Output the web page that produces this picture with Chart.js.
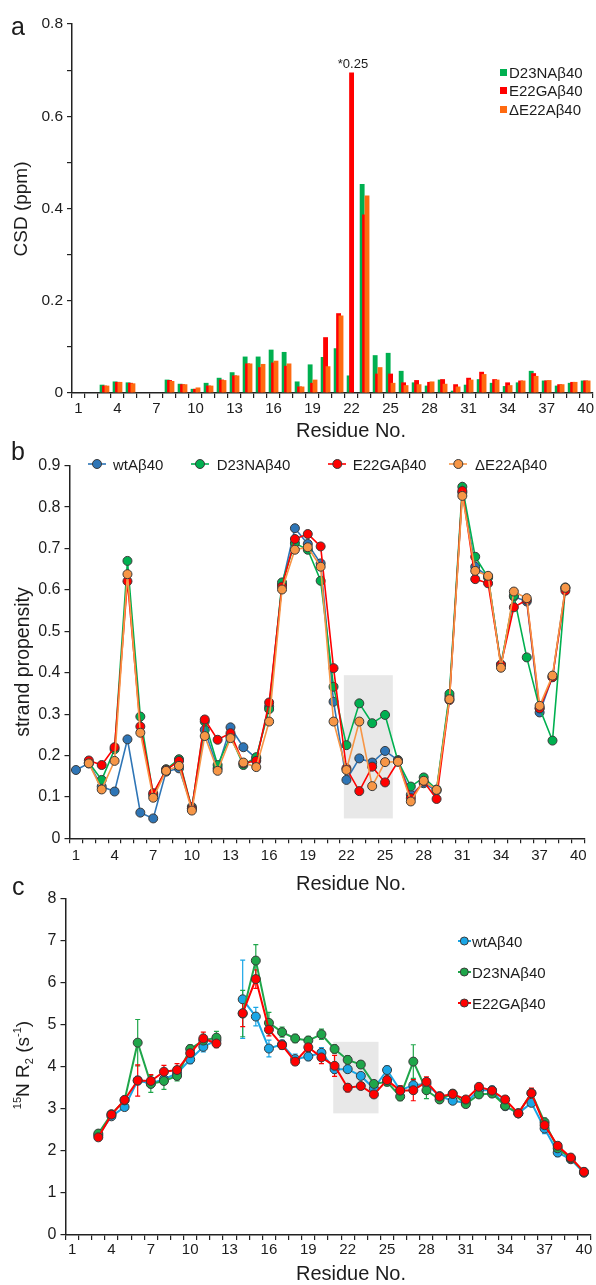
<!DOCTYPE html>
<html><head><meta charset="utf-8">
<script src="https://cdn.jsdelivr.net/npm/chart.js@4.4.1/dist/chart.umd.min.js"></script>
<style>
html,body{margin:0;padding:0;background:#fff;}
#page{position:relative;width:596px;height:1285px;overflow:hidden;font-family:"Liberation Sans",Arial,sans-serif;color:#1c1c1c;}
canvas{position:absolute;left:0;}
.t{position:absolute;white-space:nowrap;line-height:1;}
.rot{position:absolute;white-space:nowrap;line-height:1;transform:translate(-50%,-50%) rotate(-90deg);}
.rot sup,.rot sub{font-size:11px;line-height:0;}
</style></head><body>
<div id="page">
<canvas id="cA" width="596" height="440" style="top:0px"></canvas>
<canvas id="cB" width="596" height="440" style="top:440px"></canvas>
<canvas id="cC" width="596" height="405" style="top:880px"></canvas>

<div class="t" style="left:11px;top:14px;font-size:25px;">a</div>
<div class="t" style="left:11px;top:439px;font-size:25px;">b</div>
<div class="t" style="left:12px;top:874px;font-size:25px;">c</div>

<div class="rot" style="left:20px;top:209px;font-size:19px;">CSD (ppm)</div>
<div class="rot" style="left:23px;top:662px;font-size:19.5px;">strand propensity</div>
<div class="rot" style="left:22px;top:1065px;font-size:19px;"><sup>15</sup>N R<sub>2</sub> (s<sup>-1</sup>)</div>

<div class="t" style="left:351px;top:420px;font-size:20px;transform:translateX(-50%);">Residue No.</div>
<div class="t" style="left:351px;top:873px;font-size:20px;transform:translateX(-50%);">Residue No.</div>
<div class="t" style="left:351px;top:1263px;font-size:20px;transform:translateX(-50%);">Residue No.</div>

<div class="t" style="left:353px;top:57px;font-size:13px;transform:translateX(-50%);">*0.25</div>
<div id="legends"></div>
</div>
<script>
// ---------------- data ----------------
const residues = [1,2,3,4,5,6,7,8,9,10,11,12,13,14,15,16,17,18,19,20,21,22,23,24,25,26,27,28,29,30,31,32,33,34,35,36,37,38,39,40];
const tickResidues = [1,4,7,10,13,16,19,22,25,28,31,34,37,40];

// panel a: chemical shift difference (ppm)
const csdD23N = [null,null,0.018,0.025,0.023,null,null,0.029,0.020,0.009,0.022,0.033,0.045,0.079,0.079,0.094,0.089,0.025,0.062,0.078,0.097,0.038,0.453,0.082,0.087,0.048,0.023,0.016,0.029,0.005,0.018,0.030,0.022,0.015,0.023,0.048,0.027,0.016,0.022,0.027];
const csdE22G = [null,null,0.016,0.024,0.022,null,null,0.028,0.019,0.009,0.016,0.029,0.038,0.064,0.056,0.066,0.059,0.014,0.022,0.121,0.173,0.695,0.387,0.042,0.042,0.023,0.028,0.024,0.030,0.019,0.033,0.046,0.030,0.023,0.027,0.043,0.027,0.019,0.024,0.027];
const csdDE22 = [null,null,0.016,0.024,0.021,null,null,0.026,0.019,0.012,0.016,0.028,0.038,0.064,0.063,0.070,0.064,0.014,0.029,0.058,0.168,null,0.428,0.056,0.022,0.017,0.019,0.025,0.020,0.014,0.029,0.041,0.029,0.017,0.027,0.037,0.028,0.019,0.024,0.027];
const csdThreshold = 0.028;
const csdNames = ['D23NA\u03b240','E22GA\u03b240','\u0394E22A\u03b240'];

// panel b: strand propensity
const spWt   = [0.165,0.181,0.125,0.113,0.239,0.062,0.048,0.161,0.169,0.076,0.262,0.169,0.268,0.220,0.193,0.318,0.612,0.749,0.711,0.664,0.330,0.141,0.193,0.183,0.211,0.189,0.105,0.133,0.115,0.342,0.835,0.656,0.632,0.419,0.584,0.572,0.304,0.390,0.604,null];
const spD23N = [null,0.183,0.141,0.215,0.670,0.294,0.105,0.167,0.191,0.072,0.282,0.177,0.246,0.177,0.196,0.312,0.618,0.713,0.697,0.622,0.366,0.225,0.326,0.278,0.298,0.187,0.125,0.147,0.118,0.349,0.849,0.680,0.630,0.419,0.586,0.437,0.314,0.236,0.606,null];
const spE22G = [null,0.188,0.177,0.220,0.621,0.270,0.109,0.165,0.187,0.071,0.287,0.238,0.254,0.181,0.187,0.328,0.608,0.723,0.735,0.705,0.411,0.169,0.114,0.173,0.135,0.185,0.097,0.137,0.095,0.334,0.839,0.626,0.616,0.419,0.558,0.576,0.314,0.389,0.598,null];
const spDE22 = [null,0.181,0.118,0.187,0.638,0.255,0.098,0.163,0.175,0.067,0.247,0.163,0.242,0.183,0.172,0.282,0.601,0.697,0.703,0.656,0.282,0.165,0.282,0.126,0.184,0.185,0.089,0.139,0.117,0.336,0.827,0.646,0.634,0.412,0.596,0.580,0.320,0.393,0.605,null];
const spNames = ['wtA\u03b240','D23NA\u03b240','E22GA\u03b240','\u0394E22A\u03b240'];
const shadeB = [21.8, 25.6, 0.048, 0.394]; // residue from, residue to, value from, value to

// panel c: 15N R2 (s-1) with errors
const r2Wt   = [null,null,2.37,2.82,3.04,3.67,3.60,3.70,3.84,4.17,4.47,4.63,null,5.60,5.19,4.43,4.53,4.18,4.24,4.33,3.94,3.94,3.78,3.48,3.92,3.44,3.56,3.59,3.30,3.19,3.14,3.44,3.44,3.06,2.89,3.14,2.53,1.96,1.80,1.48];
const r2D23N = [null,null,2.41,2.87,3.20,4.57,3.59,3.66,3.78,4.42,4.62,4.69,null,5.26,6.52,5.04,4.82,4.67,4.62,4.77,4.42,4.16,4.05,3.59,3.64,3.29,4.12,3.44,3.22,3.36,3.11,3.34,3.36,3.07,2.89,3.37,2.68,2.06,1.82,1.50];
const r2E22G = [null,null,2.32,2.86,3.21,3.67,3.66,3.88,3.92,4.32,4.67,4.55,null,5.27,6.08,4.88,4.51,4.12,4.46,4.22,4.02,3.50,3.54,3.34,3.68,3.43,3.44,3.64,3.29,3.35,3.22,3.52,3.43,3.22,2.89,3.37,2.61,2.12,1.84,1.50];
const r2ErrWt   = [null,null,0.05,0.06,0.08,0.10,0.10,0.12,0.10,0.10,0.12,0.10,null,0.93,0.22,0.20,0.10,0.12,0.10,0.12,0.10,0.08,0.08,0.08,0.10,0.10,0.12,0.10,0.08,0.08,0.06,0.10,0.10,0.08,0.05,0.08,0.12,0.10,0.06,0.06];
const r2ErrD23N = [null,null,0.05,0.05,0.06,0.55,0.20,0.20,0.12,0.10,0.15,0.15,null,0.55,0.38,0.25,0.12,0.10,0.10,0.12,0.10,0.10,0.08,0.08,0.10,0.10,0.40,0.20,0.08,0.08,0.08,0.08,0.08,0.08,0.05,0.10,0.10,0.08,0.06,0.05];
const r2ErrE22G = [null,null,0.05,0.05,0.06,0.37,0.15,0.15,0.15,0.12,0.15,0.10,null,0.32,0.22,0.15,0.10,0.08,0.10,0.15,0.25,0.10,0.08,0.06,0.12,0.12,0.25,0.12,0.08,0.08,0.06,0.06,0.08,0.08,0.05,0.12,0.10,0.08,0.06,0.05];
const r2Names = ['wtA\u03b240','D23NA\u03b240','E22GA\u03b240'];
const shadeC = [20.9, 24.35, 2.89, 4.59];

// ---------------- styles ----------------
const FONT = '"Liberation Sans", Arial, sans-serif';
const AXIS = '#222';
const TXT = '#1c1c1c';
const PT_BORDER = '#3a3a3a';
const colA = ['#00B050', '#FF0000', '#FF6A10'];
const colB = ['#2E75B6', '#00B050', '#FF0000', '#F79646'];
const colC = ['#1AA6E6', '#1FA64A', '#FF0000'];

function xScale(canvasH, areaBottom, fontSize, pad) {
  return {
    type: 'category', offset: true,
    grid: { display: true, offset: true, drawOnChartArea: false, drawTicks: true, tickLength: 5, color: AXIS, lineWidth: 1.2 },
    border: { display: true, color: AXIS, width: 1.5 },
    ticks: { autoSkip: false, maxRotation: 0, minRotation: 0, padding: pad, color: TXT, font: { family: FONT, size: fontSize },
      callback: (v, i) => tickResidues.includes(residues[i]) ? String(residues[i]) : '' },
    afterFit: s => { s.height = canvasH - areaBottom; }
  };
}
function yScale(min, max, step, areaLeft, fontSize, labelFn) {
  return {
    min, max,
    grid: { display: true, drawOnChartArea: false, drawTicks: true, tickLength: 5, color: AXIS, lineWidth: 1.2 },
    border: { display: true, color: AXIS, width: 1.5 },
    ticks: { stepSize: step, padding: 4, color: TXT, font: { family: FONT, size: fontSize }, callback: labelFn },
    afterFit: s => { s.width = areaLeft; }
  };
}
function idx(res) { return res - 1; }

const shadePlugin = {
  id: 'shade',
  beforeDatasetsDraw(chart, args, opts) {
    const box = opts.box; if (!box) return;
    const { ctx, scales: { x, y } } = chart;
    const x0 = x.getPixelForValue(idx(box[0])), x1 = x.getPixelForValue(idx(box[1]));
    const y0 = y.getPixelForValue(box[2]), y1 = y.getPixelForValue(box[3]);
    ctx.save(); ctx.fillStyle = '#E8E8E8'; ctx.fillRect(x0, y1, x1 - x0, y0 - y1); ctx.restore();
  }
};
const thresholdPlugin = {
  id: 'threshold',
  afterDatasetsDraw(chart, args, opts) {
    if (opts.value == null) return;
    const { ctx, chartArea: a, scales: { y } } = chart;
    const py = y.getPixelForValue(opts.value);
    ctx.save(); ctx.strokeStyle = '#8A6BBE'; ctx.lineWidth = 1.8; ctx.setLineDash([5, 3]);
    ctx.beginPath(); ctx.moveTo(a.left + 1, py); ctx.lineTo(a.right - 4, py); ctx.stroke(); ctx.restore();
  }
};
const barOrderPlugin = {
  id: 'barOrder',
  beforeDatasetsDraw(chart, args, opts) {
    if (!opts.enabled) return;
    chart.data.datasets.forEach((d, i) => { const m = chart.getDatasetMeta(i); if (!m.hidden) m.controller.draw(); });
    return false;
  }
};
const errorPlugin = {
  id: 'errbars',
  beforeDatasetsDraw(chart, args, opts) {
    if (!opts.enabled) return;
    const { ctx, scales: { x, y } } = chart;
    const sets = [[r2Wt, r2ErrWt, colC[0]], [r2D23N, r2ErrD23N, colC[1]], [r2E22G, r2ErrE22G, colC[2]]];
    ctx.save(); ctx.lineWidth = 1.2;
    sets.forEach(([vals, errs, c]) => {
      ctx.strokeStyle = c;
      vals.forEach((v, i) => {
        const e = errs[i]; if (v == null || e == null) return;
        const px = x.getPixelForValue(i), ya = y.getPixelForValue(v - e), yb = y.getPixelForValue(v + e);
        ctx.beginPath(); ctx.moveTo(px, ya); ctx.lineTo(px, yb);
        ctx.moveTo(px - 2.5, ya); ctx.lineTo(px + 2.5, ya); ctx.moveTo(px - 2.5, yb); ctx.lineTo(px + 2.5, yb);
        ctx.stroke();
      });
    });
    ctx.restore();
  }
};

const common = { responsive: false, animation: false, events: [] };

// ---------------- panel a ----------------
(function () {
  const H = 440, area = { l: 72, t: 24, r: 595, b: 393 };
  new Chart(document.getElementById('cA'), {
    type: 'bar',
    data: { labels: residues.map(String), datasets: [csdD23N, csdE22G, csdDE22].map((d, i) => ({
      label: csdNames[i], data: d, backgroundColor: colA[i], borderWidth: 0, categoryPercentage: 0.56, barPercentage: 2.0 })) },
    options: Object.assign({}, common, {
      layout: { padding: { left: 0, top: area.t, right: 596 - area.r, bottom: 0 } },
      plugins: { legend: { display: false }, tooltip: { enabled: false }, threshold: { value: csdThreshold }, barOrder: { enabled: true } },
      scales: {
        x: xScale(H, area.b, 15, 2),
        y: yScale(0, 0.8, 0.1, area.l, 15.5, v => (Math.round(v * 10) % 2 === 0) ? (v === 0 ? '0' : v.toFixed(1)) : '')
      }
    }),
    plugins: [barOrderPlugin, thresholdPlugin]
  });
})();

// ---------------- panel b ----------------
(function () {
  const H = 440, top = 440, area = { l: 69.5, t: 465.7 - top, r: 584.7, b: 838.3 - top };
  const sets = [spWt, spD23N, spE22G, spDE22];
  new Chart(document.getElementById('cB'), {
    type: 'line',
    data: { labels: residues.map(String), datasets: sets.map((d, i) => ({
      label: spNames[i], data: d, borderColor: colB[i], backgroundColor: colB[i], borderWidth: 1.6,
      pointRadius: 4.5, pointBackgroundColor: colB[i], pointBorderColor: PT_BORDER, pointBorderWidth: 1,
      tension: 0, spanGaps: false, order: 4 - i })) },
    options: Object.assign({}, common, {
      layout: { padding: { left: 0, top: area.t, right: 596 - area.r, bottom: 0 } },
      plugins: { legend: { display: false }, tooltip: { enabled: false }, shade: { box: shadeB } },
      scales: {
        x: xScale(H, area.b, 15, 4),
        y: yScale(0, 0.9, 0.1, area.l, 16, v => v === 0 ? '0' : v.toFixed(1))
      }
    }),
    plugins: [shadePlugin]
  });
})();

// ---------------- panel c ----------------
(function () {
  const H = 405, top = 880, area = { l: 65.5, t: 898.3 - top, r: 591.6, b: 1235 - top };
  const sets = [r2Wt, r2D23N, r2E22G];
  new Chart(document.getElementById('cC'), {
    type: 'line',
    data: { labels: residues.map(String), datasets: sets.map((d, i) => ({
      label: r2Names[i], data: d, borderColor: colC[i], backgroundColor: colC[i], borderWidth: 2,
      pointRadius: 4.5, pointBackgroundColor: colC[i], pointBorderColor: PT_BORDER, pointBorderWidth: 1,
      tension: 0, spanGaps: false, order: 3 - i })) },
    options: Object.assign({}, common, {
      layout: { padding: { left: 0, top: area.t, right: 596 - area.r, bottom: 0 } },
      plugins: { legend: { display: false }, tooltip: { enabled: false }, shade: { box: shadeC }, errbars: { enabled: true } },
      scales: {
        x: xScale(H, area.b, 15, 1),
        y: yScale(0, 8, 1, area.l, 16, v => String(v))
      }
    }),
    plugins: [shadePlugin, errorPlugin]
  });
})();

// ---------------- legends (HTML) ----------------
(function () {
  const L = document.getElementById('legends');
  function text(str, left, cy, size) {
    const d = document.createElement('div'); d.className = 't';
    d.style.left = left + 'px'; d.style.top = (cy - size * 0.49) + 'px'; d.style.fontSize = size + 'px';
    d.textContent = str; L.appendChild(d);
  }
  function marker(x0, x1, cx, cy, r, color, lw) {
    const ns = 'http://www.w3.org/2000/svg';
    const s = document.createElementNS(ns, 'svg');
    s.setAttribute('width', 40); s.setAttribute('height', 20);
    s.style.position = 'absolute'; s.style.left = (x0 - 5) + 'px'; s.style.top = (cy - 10) + 'px';
    const ln = document.createElementNS(ns, 'line');
    ln.setAttribute('x1', 5); ln.setAttribute('x2', x1 - x0 + 5); ln.setAttribute('y1', 10); ln.setAttribute('y2', 10);
    ln.setAttribute('stroke', color); ln.setAttribute('stroke-width', lw);
    const c = document.createElementNS(ns, 'circle');
    c.setAttribute('cx', cx - x0 + 5); c.setAttribute('cy', 10); c.setAttribute('r', r);
    c.setAttribute('fill', color); c.setAttribute('stroke', PT_BORDER); c.setAttribute('stroke-width', 1);
    s.appendChild(ln); s.appendChild(c); L.appendChild(s);
  }
  // panel a: squares
  const rowsA = [72.7, 90.7, 109.3];
  csdNames.forEach((n, i) => {
    const sq = document.createElement('div');
    sq.style.cssText = 'position:absolute;left:500px;width:7px;height:7px;top:' + (rowsA[i] - 3.5) + 'px;background:' + colA[i];
    L.appendChild(sq);
    text(n, 509, rowsA[i], 15);
  });
  // panel b: horizontal row
  const itemsB = [[88, 106, 97, 113], [191, 209, 200, 216.7], [328, 346, 337.3, 352.7], [449, 467, 458.3, 475]];
  spNames.forEach((n, i) => {
    const [x0, x1, cx, tx] = itemsB[i];
    marker(x0, x1, cx, 464, 4.5, colB[i], 1.6);
    text(n, tx, 464, 15);
  });
  // panel c: vertical list
  const rowsC = [941, 972.3, 1003.3];
  r2Names.forEach((n, i) => {
    marker(457.7, 470.7, 464, rowsC[i], 4, colC[i], 2);
    text(n, 472, rowsC[i], 15);
  });
})();
</script>
</body></html>
